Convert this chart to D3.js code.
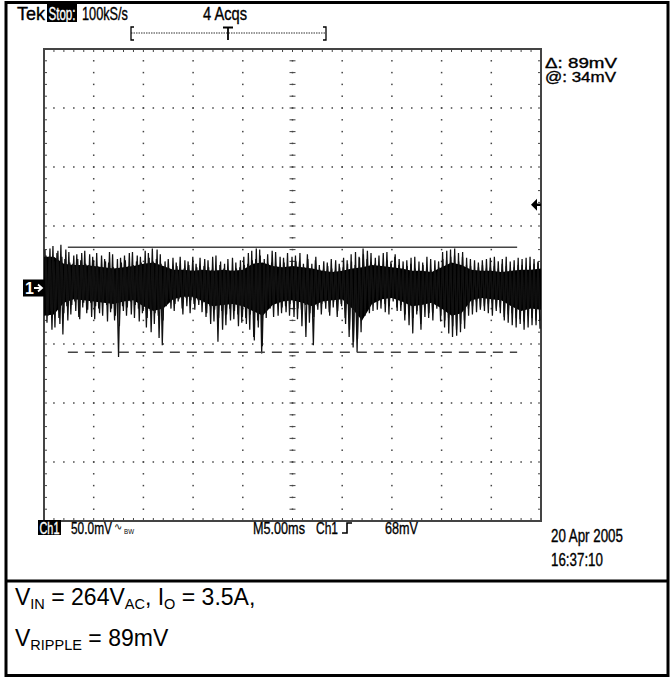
<!DOCTYPE html>
<html><head><meta charset="utf-8">
<script src="https://cdn.jsdelivr.net/npm/d3@7"></script>
<style>body{margin:0;background:#fff}svg{display:block}</style>
</head><body><svg id="c" width="671" height="677"></svg>
<script>
// ---------- data ----------
const timeRangeMs = [0, 50];        // 10 div x 5.00 ms
const voltRangeMv = [-200, 200];    // 8 div x 50.0 mV
// acquisition A: peak samples (pairs of high / low excursions, left to right), mV
const traceHigh = [30,24,33,27,34,22,28,18,26,21, 29,17,24,27,15,22,19,26,14,23,
  25,16,28,20,24,18,27,31,22,26, 15,22,13,19,24,14,20,12,18,23,
  16,21,13,25,17,14,22,12,19,15, 24,18,29,22,30,17,26,19,28,15,
  23,27,16,25,20,18,26,14,21,17, 13,19,22,12,18,15,21,26,17,24,
  31,22,27,18,25,16,28,20,24,17, 14,21,18,24,13,19,15,22,12,20,
  28,21,30,25,27,24,17,22,13,19, 21,14,23,16,20,18,24,13,21,17,
  22,15,24,18,20];
const traceLow = [-32,-22,-36,-28,-42,-18,-25,-14,-27,-19, -24,-15,-29,-20,-26,-17,-23,-30,-61,-18,
  -26,-14,-28,-20,-24,-36,-22,-33,-26,-51, -18,-12,-22,-14,-20,-11,-24,-16,-13,-23,
  -27,-18,-31,-48,-22,-34,-20,-29,-25,-32, -28,-38,-44,-30,-58,-22,-16,-27,-14,-24,
  -18,-26,-15,-29,-21,-17,-32,-51,-18,-25, -15,-23,-19,-27,-16,-28,-44,-53,-57,-40,
  -26,-14,-22,-12,-20,-16,-25,-11,-19,-22, -30,-20,-41,-25,-33,-21,-28,-24,-18,-31,
  -36,-28,-44,-38,-40,-30,-20,-25,-14,-21, -18,-24,-15,-22,-19,-27,-32,-24,-36,-29,
  -38,-26,-34,-30,-37];
// acquisition B: peak samples, mV
const trace2High = [25,31,20,29,24,30,19,25,22,27, 18,26,21,16,25,20,28,15,22,19,
  21,27,17,25,19,29,23,20,30,18, 20,14,23,16,12,21,17,24,15,13,
  22,15,24,13,20,18,12,23,14,21, 17,27,21,31,25,22,18,29,16,24,
  19,15,24,20,27,15,22,18,24,13, 20,16,14,21,15,23,18,20,28,23,
  26,29,19,23,15,27,21,18,26,22, 20,16,23,14,20,17,24,13,21,15,
  22,29,24,31,20,28,23,16,21,15, 17,22,15,24,14,22,16,20,15,23,
  17,23,16,22,19];
const trace2Low = [-26,-38,-20,-33,-24,-30,-17,-22,-29,-15, -21,-27,-18,-24,-14,-31,-20,-26,-35,-22,
  -19,-25,-17,-31,-22,-28,-40,-24,-45,-30, -14,-20,-16,-12,-25,-18,-13,-21,-17,-15,
  -24,-33,-21,-28,-38,-25,-30,-22,-35,-27, -33,-25,-47,-36,-52,-28,-20,-14,-26,-19,
  -23,-16,-27,-20,-35,-44,-24,-27,-21,-16, -20,-26,-14,-22,-18,-33,-38,-48,-46,-30,
  -20,-24,-15,-21,-13,-23,-18,-14,-22,-17, -25,-34,-28,-22,-38,-27,-24,-30,-20,-26,
  -30,-41,-35,-43,-33,-37,-26,-18,-23,-19, -22,-16,-26,-20,-24,-30,-25,-34,-28,-33,
  -31,-36,-28,-34,-30];
// dense core of the noise band, one value per ms, mV
const coreTop = [24,24,18,17,17,16,15,14,15,16, 18,19,16,13,13,12,13,12,13,12,
  13,18,19,16,15,16,15,14,12,11, 12,14,15,17,16,15,14,12,12,11,
  15,19,17,13,12,12,11,12,13,13, 14];
const coreBottom = [-26,-25,-15,-12,-13,-14,-15,-16,-14,-13, -18,-22,-20,-12,-10,-10,-14,-18,-17,-16,
  -18,-22,-26,-17,-14,-13,-15,-18,-14,-13, -12,-20,-30,-16,-12,-11,-14,-18,-17,-15,
  -20,-26,-24,-13,-11,-12,-13,-18,-22,-20, -21];
const cursorLevelsMv = [32, -57];
const cursorSpanMs = [2.4, 47.6];
const triggerLevelMv = 68;
const groundMv = 0;
const headerLabels = ["Tek", "Stop:", "100kS/s", "4 Acqs"];
const readoutLabels = ["\u0394: 89mV", "@: 34mV"];
const footerLabels = ["Ch1", "50.0mV", "M5.00ms", "Ch1", "68mV"];
const bwLabel = ["\u223F", "BW"];
const dateLabels = ["20 Apr 2005", "16:37:10"];
const captionLine1 = [["V",""],["IN","sub"],[" = 264V",""],["AC","sub"],[", I",""],["O","sub"],[" = 3.5A,",""]];
const captionLine2 = [["V",""],["RIPPLE","sub"],[" = 89mV",""]];

// ---------- layout ----------
const G = {x0: 44, x1: 541, y0: 49, y1: 521};
const svg = d3.select("#c");
const x = d3.scaleLinear().domain(timeRangeMs).range([G.x0, G.x1]);
const y = d3.scaleLinear().domain(voltRangeMv).range([G.y1, G.y0]);
const sans = "'Liberation Sans',Arial,sans-serif";

// outer frame
svg.append("rect").attr("x",6).attr("y",2.5).attr("width",662).attr("height",673)
  .attr("fill","none").attr("stroke","#000").attr("stroke-width",3);
svg.append("line").attr("x1",6).attr("x2",668).attr("y1",581).attr("y2",581)
  .attr("stroke","#000").attr("stroke-width",3);

// graticule
const gr = svg.append("g");
const xMinor = d3.range(timeRangeMs[0], timeRangeMs[1] + 0.001, 1);
const xMajor = d3.range(timeRangeMs[0], timeRangeMs[1] + 0.001, 5);
const yMinor = d3.range(voltRangeMv[0], voltRangeMv[1] + 0.001, 10);
const yMajor = d3.range(voltRangeMv[0], voltRangeMv[1] + 0.001, 50);
const dotCol = "#444";
const inner = (arr) => arr.slice(1, -1);
inner(xMajor).forEach(t => {
  inner(yMinor).forEach(v => gr.append("rect").attr("x", x(t) - 0.75).attr("y", y(v) - 0.75)
    .attr("width", 1.5).attr("height", 1.5).attr("fill", dotCol));
});
inner(yMajor).forEach(v => {
  inner(xMinor).forEach(t => gr.append("rect").attr("x", x(t) - 0.75).attr("y", y(v) - 0.75)
    .attr("width", 1.5).attr("height", 1.5).attr("fill", dotCol));
});
inner(xMinor).forEach(t => {
  gr.append("line").attr("x1", x(t)).attr("x2", x(t)).attr("y1", G.y0).attr("y2", G.y0 + 3).attr("stroke", dotCol);
  gr.append("line").attr("x1", x(t)).attr("x2", x(t)).attr("y1", G.y1).attr("y2", G.y1 - 3).attr("stroke", dotCol);
  gr.append("line").attr("x1", x(t)).attr("x2", x(t)).attr("y1", y(0) - 3).attr("y2", y(0) + 3).attr("stroke", dotCol);
});
inner(yMinor).forEach(v => {
  gr.append("line").attr("y1", y(v)).attr("y2", y(v)).attr("x1", G.x0).attr("x2", G.x0 + 3).attr("stroke", dotCol);
  gr.append("line").attr("y1", y(v)).attr("y2", y(v)).attr("x1", G.x1).attr("x2", G.x1 - 3).attr("stroke", dotCol);
  gr.append("line").attr("y1", y(v)).attr("y2", y(v)).attr("x1", x(25) - 3).attr("x2", x(25) + 3).attr("stroke", dotCol);
});
gr.append("rect").attr("x", G.x0).attr("y", G.y0).attr("width", G.x1 - G.x0).attr("height", G.y1 - G.y0)
  .attr("fill", "none").attr("stroke", "#444").attr("stroke-width", 2);

// trace: dense core + peak excursions of two overlaid acquisitions
const tIdx = d3.range(coreTop.length);
svg.append("path").attr("d", d3.area().x(i => x(i)).y0(i => y(coreBottom[i])).y1(i => y(coreTop[i]))(tIdx))
  .attr("fill", "#000");
const drawAcq = (hiArr, loArr, off) => {
  const pts = [];
  hiArr.forEach((h, i) => { pts.push(h); pts.push(loArr[i]); });
  const sx = d3.scaleLinear().domain([0, pts.length - 1]).range([G.x0 + 1 + off, G.x1 - 1]);
  svg.append("path").attr("d", d3.line().x((d, i) => sx(i)).y(d => y(d))(pts))
    .attr("fill", "none").attr("stroke", "#111").attr("stroke-width", 1.25);
};
drawAcq(traceHigh, traceLow, 0);
drawAcq(trace2High, trace2Low, 1);

// cursors
cursorLevelsMv.forEach((v, i) => {
  svg.append("line").attr("x1", x(cursorSpanMs[0])).attr("x2", x(cursorSpanMs[1]))
    .attr("y1", y(v)).attr("y2", y(v)).attr("stroke", "#444").attr("stroke-width", 1.6)
    .attr("stroke-dasharray", i === 1 ? "10,7" : null);
});

// channel marker
const gy = y(groundMv) + 3;
svg.append("rect").attr("x", 23).attr("y", gy - 8.5).attr("width", 21).attr("height", 17).attr("fill", "#000");
svg.append("text").attr("x", 25).attr("y", gy + 6).attr("fill", "#fff").attr("font-family", sans)
  .attr("font-size", 16).attr("font-weight", "bold").text("1");
svg.append("path").attr("d", `M34,${gy} H42 M38,${gy-3.5} L42,${gy} L38,${gy+3.5}`).attr("stroke", "#fff")
  .attr("stroke-width", 1.8).attr("fill", "none");

// trigger level marker
const ty = y(triggerLevelMv);
svg.append("path").attr("d", `M531,${ty} L537,${ty-6} L537,${ty+6} Z`).attr("fill", "#000");
svg.append("line").attr("x1", 535).attr("x2", 541).attr("y1", ty).attr("y2", ty).attr("stroke", "#000").attr("stroke-width", 2.5);

// text helper: condensed scope font = sans squeezed to the measured width
const txt = (s, xx, yy, w, size, fill, heavy) => {
  const t = svg.append("text").attr("font-family", sans).attr("font-size", size).attr("fill", fill || "#000")
    .attr("stroke", fill || "#000").attr("stroke-width", heavy === false ? 0 : 0.35).text(s);
  const nat = t.node().getComputedTextLength();
  t.attr("transform", `translate(${xx},${yy}) scale(${w / nat},1)`);
  return t;
};

// header
txt(headerLabels[0], 17, 20, 28, 18);
svg.append("rect").attr("x", 47).attr("y", 4).attr("width", 30).attr("height", 18).attr("fill", "#000");
txt(headerLabels[1], 48.5, 19.5, 27, 17.5, "#fff");
txt(headerLabels[2], 82, 20, 46, 18);
txt(headerLabels[3], 203, 20, 44, 18);
// trigger position bracket
const bx0 = 131, bx1 = 326, by = 33;
svg.append("line").attr("x1", bx0).attr("x2", bx1).attr("y1", by).attr("y2", by)
  .attr("stroke", "#333").attr("stroke-width", 1.2).attr("stroke-dasharray", "1.5,1");
svg.append("path").attr("d", `M${bx0+3},27 H${bx0} V40 H${bx0+3} M${bx1-3},27 H${bx1} V40 H${bx1-3}`)
  .attr("stroke", "#000").attr("fill", "none").attr("stroke-width", 1.3);
svg.append("path").attr("d", `M223,27.5 H233 M228,27.5 V40`).attr("stroke", "#000").attr("fill", "none").attr("stroke-width", 1.8);

// readouts
txt(readoutLabels[0], 545, 67.5, 72, 14);
txt(readoutLabels[1], 545, 82, 71, 14);

// footer
svg.append("rect").attr("x", 38).attr("y", 520).attr("width", 23).attr("height", 15).attr("fill", "#000");
txt(footerLabels[0], 39.5, 533.5, 20, 16.5, "#fff");
txt(footerLabels[1], 71, 534, 41, 17);
txt(bwLabel[0], 114, 530, 8, 10, "#000", false);
txt(bwLabel[1], 124, 534, 10, 7, "#000", false);
txt(footerLabels[2], 253, 534, 52, 17);
txt(footerLabels[3], 316, 534, 22, 17);
svg.append("path").attr("d", "M342,533 H347 V523 H352").attr("stroke", "#000").attr("fill", "none").attr("stroke-width", 1.6);
txt(footerLabels[4], 385, 534, 33, 17);
txt(dateLabels[0], 551, 542, 72, 17.5);
txt(dateLabels[1], 551, 566, 52, 17.5);

// caption
const cap = (parts, yy) => {
  const t = svg.append("text").attr("x", 15).attr("y", yy).attr("font-family", sans)
    .attr("font-size", 23).attr("fill", "#000");
  parts.forEach(([s, k], i) => {
    const prev = i > 0 ? parts[i - 1][1] : "";
    let dy = 0;
    if (k === "sub" && prev !== "sub") dy = 4;
    if (k !== "sub" && prev === "sub") dy = -4;
    t.append("tspan").attr("font-size", k === "sub" ? 14.5 : 23).attr("dy", dy).text(s);
  });
};
cap(captionLine1, 605);
cap(captionLine2, 646);
</script></body></html>
